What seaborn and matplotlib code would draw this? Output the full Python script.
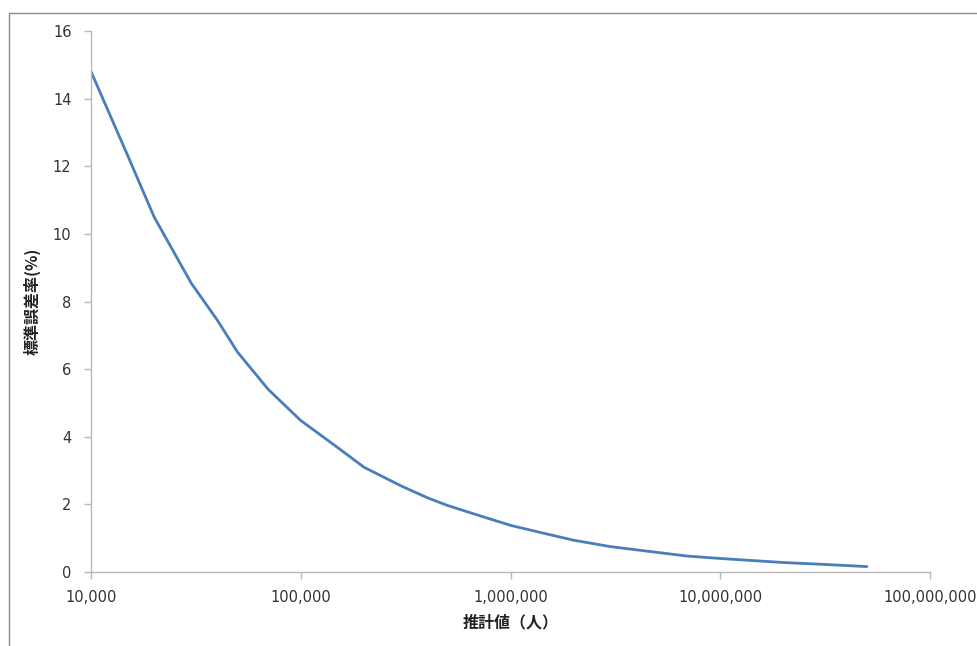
import matplotlib
matplotlib.use("Agg")
import matplotlib.pyplot as plt
import matplotlib.ticker as mticker
from matplotlib.patches import Rectangle
import pandas as pd
import seaborn as sns

# values
estimate = [10_000, 15_000, 20_000, 30_000, 40_000, 50_000, 70_000, 100_000,
            150_000, 200_000, 300_000, 400_000, 500_000, 700_000, 1_000_000,
            1_500_000, 2_000_000, 3_000_000, 5_000_000, 7_000_000, 10_000_000,
            20_000_000, 30_000_000, 50_000_000]
se_rate = [14.8, 12.3, 10.5, 8.55, 7.45, 6.5, 5.4, 4.48,
           3.68, 3.1, 2.55, 2.2, 1.97, 1.68, 1.38,
           1.12, 0.94, 0.75, 0.58, 0.47, 0.40,
           0.28, 0.23, 0.16]
x_ticks = [10_000, 100_000, 1_000_000, 10_000_000, 100_000_000]
y_ticks = [0, 2, 4, 6, 8, 10, 12, 14, 16]

df = pd.DataFrame({"estimate": estimate, "se_rate": se_rate})

sns.set_style("white")
plt.rcParams["font.family"] = ["Noto Sans CJK JP", "DejaVu Sans"]

W, H = 978, 646
fig = plt.figure(figsize=(W / 100, H / 100), dpi=100)
ax = fig.add_axes([91 / W, (H - 572) / H, (930 - 91) / W, (572 - 31) / H])

sns.lineplot(data=df, x="estimate", y="se_rate", ax=ax, color="#4a7ebb", linewidth=2.0)

ax.set_xscale("log")
ax.set_xlim(10_000, 100_000_000)
ax.set_ylim(0, 16)
ax.set_xticks(x_ticks)
ax.xaxis.set_major_formatter(mticker.FuncFormatter(lambda v, p: f"{int(round(v)):,}"))
ax.xaxis.set_minor_locator(mticker.NullLocator())
ax.set_yticks(y_ticks)

grey = "#b8b8b8"
for side in ["top", "right"]:
  ax.spines[side].set_visible(False)
for side in ["left", "bottom"]:
  ax.spines[side].set_color(grey)
  ax.spines[side].set_linewidth(1.0)
ax.tick_params(axis="both", direction="out", length=5, width=1.0, color=grey,
               labelsize=10.5, labelcolor="#333333", left=True, bottom=True)
ax.tick_params(axis="x", pad=8)
ax.tick_params(axis="y", pad=9)
for lbl in ax.get_xticklabels() + ax.get_yticklabels():
  lbl.set_fontfamily("DejaVu Sans")

ax.set_xlabel("推計値（人）", fontsize=11.5, fontweight="bold", labelpad=7, color="#222222")
ax.set_ylabel("標準誤差率(%)", fontsize=11.5, fontweight="bold", labelpad=9, color="#222222")

# outer chart-area frame (extends past right/bottom edge)
fig.add_artist(Rectangle((9 / W, -0.1), 1.2, (H - 13) / H + 0.1, transform=fig.transFigure,
                         fill=False, edgecolor="#8c8c8c", linewidth=1.0))

fig.savefig("out.png", dpi=100)
plt.close(fig)
